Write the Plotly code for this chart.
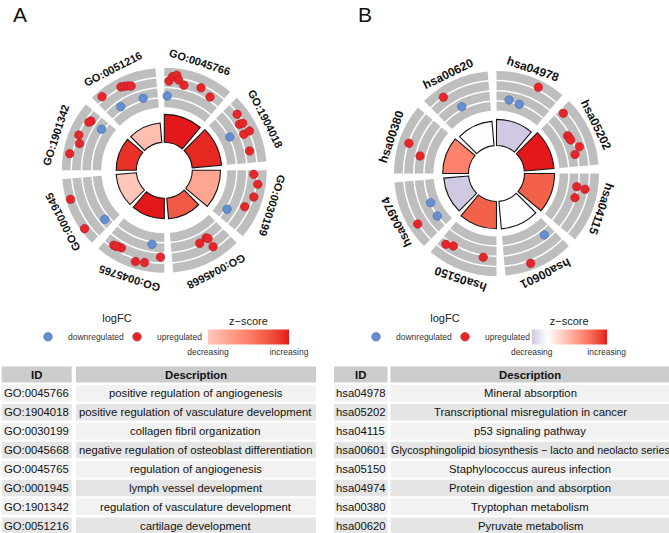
import math
import plotly.graph_objects as go

W, H = 669, 533

# ---------------- data : panel A (GO terms) ----------------
A_ids = ["GO:0045766", "GO:1904018", "GO:0030199", "GO:0045668",
         "GO:0045765", "GO:0001945", "GO:1901342", "GO:0051216"]
A_desc = ["positive regulation of angiogenesis",
          "positive regulation of vasculature development",
          "collagen fibril organization",
          "negative regulation of osteoblast differentiation",
          "regulation of angiogenesis",
          "lymph vessel development",
          "regulation of vasculature development",
          "cartilage development"]
A_neglogp = [9.3, 9.8, 9.4, 6.9, 6.8, 6.8, 6.7, 6.5]
A_zscore = [2.12, 2.05, 0.95, 1.7, 2.12, 0.6, 2.0, 0.7]
# genes of each term: relative position inside the term (0..1) and logFC
A_gene_pos = [
    [0.075, 0.125, 0.188, 0.225, 0.325, 0.60, 0.80, 0.055],
    [0.185, 0.338, 0.35, 0.515, 0.505, 0.805, 0.45],
    [0.065, 0.213, 0.415, 0.608, 0.795],
    [0.478, 0.333, 0.308, 0.31],
    [0.85, 0.785, 0.725, 0.813, 0.438, 0.303, 0.063, 0.235],
    [0.695, 0.22, 0.138],
    [0.25, 0.56, 0.438, 0.848, 0.813, 0.828],
    [0.12, 0.438, 0.488, 0.538, 0.588, 0.265, 0.715],
]
A_gene_lfc = [
    [2.51, 3.55, 3.99, 2.98, 2.00, 2.71, 1.80, -0.91],
    [3.08, 2.21, 2.98, 2.03, 3.51, 2.05, -1.12],
    [2.55, 3.67, 3.42, 2.26, -1.03],
    [0.64, 0.25, 0.62, 2.78],
    [2.73, 2.51, 2.35, 2.64, 3.94, 3.64, 1.91, -0.77],
    [4.51, 4.65, -0.30],
    [4.01, 3.21, 2.41, 2.26, 2.53, -0.77],
    [4.10, 3.55, 3.33, 3.10, 2.76, -0.32, -0.77],
]

# ---------------- data : panel B (KEGG pathways) ----------------
B_ids = ["hsa04978", "hsa05202", "hsa04115", "hsa00601",
         "hsa05150", "hsa04974", "hsa00380", "hsa00620"]
B_desc = ["Mineral absorption",
          "Transcriptional misregulation in cancer",
          "p53 signaling pathway",
          "Glycosphingolipid biosynthesis \u2212 lacto and neolacto series",
          "Staphylococcus aureus infection",
          "Protein digestion and absorption",
          "Tryptophan metabolism",
          "Pyruvate metabolism"]
B_neglogp = [8.7, 9.9, 10.0, 9.2, 9.1, 8.3, 8.6, 8.1]
B_zscore = [-0.577, 2.236, 1.732, 0.0, 1.732, -0.577, 1.414, 0.0]
B_gene_pos = [
    [0.648, 0.243, 0.455],
    [0.075, 0.425, 0.47, 0.518, 0.678, 0.783],
    [0.233, 0.253, 0.428],
    [0.178, 0.605],
    [0.888, 0.77, 0.225],
    [0.528, 0.233, 0.308],
    [0.475, 0.323],
    [0.253, 0.438],
]
B_gene_lfc = [
    [3.96, -0.87, -1.25],
    [2.62, 0.50, 0.59, 0.68, 1.96, 0.55],
    [0.66, 2.62, 0.84],
    [-0.11, 4.03],
    [1.96, 1.37, 1.46],
    [-1.46, -1.25, 3.46],
    [3.23, 0.02],
    [3.30, -0.71],
]

TABLE_HEADER = ["ID", "Description"]
LEGEND_LABELS = ["downregulated", "upregulated"]
ZSCORE_TICKS = ["decreasing", "increasing"]

# ---------------- styling / geometry ----------------
FONT = "Liberation Sans"
RED_PT, RED_PT_LINE = "#E6262B", "#B01E22"
BLUE_PT, BLUE_PT_LINE = "#6390D2", "#46679E"
Z_LOW, Z_MID, Z_HIGH = "#483D8B", "#FFFFFF", "#E4171B"
TRACK_COL = "#BEBEBE"

RMAX = 125.0          # radial axis range (1 unit == 1 px)
R_IN = 28.0           # inner radius of the z-score ring
BAR_PX = 3.0          # px per -log10(adj p)
TRACK_IN, TRACK_OUT, N_TRACK, TRACK_GAP = 63.0, 102.5, 4, 1.5
LFC_ZERO_R, LFC_PX = 78.4, 4.39
SECTOR, SPAN = 45.0, 40.0
TABLE_FS = 11.3

# approximate Arial / Liberation Sans advance widths (em)
_CW = {c: 0.556 for c in "abdeghnopqu0123456789"}
_CW.update({c: 0.5 for c in "cksvxyz"})
_CW.update({"f": 0.278, "t": 0.278, "i": 0.222, "j": 0.222, "l": 0.222, "r": 0.333,
            "m": 0.833, "w": 0.722, " ": 0.278, ":": 0.278, "\u2212": 0.584, "-": 0.333})


def text_width(txt, fs):
    return sum(_CW.get(ch, 0.667) for ch in txt) * fs


# ---------------- colour helpers (CIELAB interpolation like ggplot) ----------------
def hex2rgb(h):
    h = h.lstrip("#")
    return tuple(int(h[i:i + 2], 16) for i in (0, 2, 4))


def _lin(c):
    c = c / 255.0
    return c / 12.92 if c <= 0.04045 else ((c + 0.055) / 1.055) ** 2.4


def _gam(c):
    c = max(0.0, c)
    v = 12.92 * c if c <= 0.0031308 else 1.055 * (c ** (1 / 2.4)) - 0.055
    return int(round(min(1.0, max(0.0, v)) * 255))


XN, YN, ZN = 0.95047, 1.0, 1.08883


def _f(t):
    return t ** (1 / 3) if t > (6 / 29) ** 3 else t / (3 * (6 / 29) ** 2) + 4 / 29


def _finv(t):
    return t ** 3 if t > 6 / 29 else 3 * (6 / 29) ** 2 * (t - 4 / 29)


def rgb2lab(rgb):
    r, g, b = [_lin(c) for c in rgb]
    X = 0.4124564 * r + 0.3575761 * g + 0.1804375 * b
    Y = 0.2126729 * r + 0.7151522 * g + 0.0721750 * b
    Z = 0.0193339 * r + 0.1191920 * g + 0.9503041 * b
    fx, fy, fz = _f(X / XN), _f(Y / YN), _f(Z / ZN)
    return (116 * fy - 16, 500 * (fx - fy), 200 * (fy - fz))


def lab2hex(lab):
    L, a, b = lab
    fy = (L + 16) / 116
    fx = fy + a / 500
    fz = fy - b / 200
    X, Y, Z = XN * _finv(fx), YN * _finv(fy), ZN * _finv(fz)
    r = 3.2404542 * X - 1.5371385 * Y - 0.4985314 * Z
    g = -0.9692660 * X + 1.8760108 * Y + 0.0415560 * Z
    bb = 0.0556434 * X - 0.2040259 * Y + 1.0572252 * Z
    return "#%02x%02x%02x" % (_gam(r), _gam(g), _gam(bb))


def gradient2(z, m):
    t = max(-1.0, min(1.0, z / m)) if m else 0.0
    a = rgb2lab(hex2rgb(Z_MID))
    b = rgb2lab(hex2rgb(Z_HIGH if t >= 0 else Z_LOW))
    t = abs(t)
    return lab2hex(tuple(a[i] + (b[i] - a[i]) * t for i in range(3)))


def zscale(zs):
    lo, hi = min(zs), max(zs)
    m = max(abs(lo), abs(hi))
    n = 24
    return [[k / n, gradient2(lo + (hi - lo) * k / n, m)] for k in range(n + 1)], lo, hi


# ---------------- panels ----------------
panels = [
    dict(subplot="polar", legend="legend", ids=A_ids, desc=A_desc, nlp=A_neglogp, z=A_zscore,
         gpos=A_gene_pos, glfc=A_gene_lfc, cx=164.3, cy=170.3, lab_r=114.0, lab_off=18.0,
         lab_size=11, letter="A", letter_x=11.0,
         leg_x=28.0, cb_x=248.5, cb_len=81,
         cols=[(1.7, 71.7), (76.0, 316.0)]),
    dict(subplot="polar2", legend="legend2", ids=B_ids, desc=B_desc, nlp=B_neglogp, z=B_zscore,
         gpos=B_gene_pos, glfc=B_gene_lfc, cx=496.5, cy=173.5, lab_r=111.0, lab_off=19.0,
         lab_size=12, letter="B", letter_x=356.0,
         leg_x=356.0, cb_x=569.2, cb_len=75,
         cols=[(334.0, 387.5), (390.5, 669.5)]),
]

fig = go.Figure()
annotations = []
shapes = []
layout_extra = {}

band = (TRACK_OUT - TRACK_IN - (N_TRACK - 1) * TRACK_GAP) / N_TRACK

for p in panels:
    n = len(p["ids"])
    centers = [SECTOR * i + SPAN / 2 for i in range(n)]

    # grey tracks of the outer scatter ring
    th, rr, bb = [], [], []
    for i in range(n):
        for k in range(N_TRACK):
            th.append(centers[i])
            rr.append(band)
            bb.append(TRACK_IN + k * (band + TRACK_GAP))
    fig.add_trace(go.Barpolar(
        theta=th, r=rr, base=bb, width=[SPAN] * len(th), subplot=p["subplot"],
        marker=dict(color=TRACK_COL, line=dict(width=0)),
        showlegend=False, hoverinfo="skip"))

    # inner ring: height = -log10(adj p), colour = z-score
    cs, zlo, zhi = zscale(p["z"])
    fig.add_trace(go.Barpolar(
        theta=centers, r=[v * BAR_PX for v in p["nlp"]], base=[R_IN] * n,
        width=[SPAN] * n, subplot=p["subplot"],
        marker=dict(color=p["z"], colorscale=cs, cmin=zlo, cmax=zhi,
                    line=dict(color="#141414", width=1.1),
                    showscale=True,
                    colorbar=dict(orientation="h", x=p["cb_x"] / W, xanchor="center",
                                  y=1 - 335.5 / H, yanchor="middle",
                                  len=p["cb_len"], lenmode="pixels", thickness=15,
                                  outlinewidth=0, xpad=0, ypad=0,
                                  tickvals=[zlo, zhi], ticktext=ZSCORE_TICKS, ticks="",
                                  tickfont=dict(family=FONT, size=8.5, color="#333333"),
                                  title=dict(text="z\u2212score", side="top",
                                             font=dict(family=FONT, size=11, color="#222222")))),
        showlegend=False, hoverinfo="skip"))

    # outer ring: genes as points, radius = logFC
    for lab_i, (sign, fill, line) in enumerate([(-1, BLUE_PT, BLUE_PT_LINE), (1, RED_PT, RED_PT_LINE)]):
        tt, rv = [], []
        for i in range(n):
            for pos, lfc in zip(p["gpos"][i], p["glfc"][i]):
                if (lfc < 0) == (sign < 0):
                    tt.append(SECTOR * i + pos * SPAN)
                    rv.append(LFC_ZERO_R + LFC_PX * lfc)
        fig.add_trace(go.Scatterpolar(
            theta=tt, r=rv, mode="markers", subplot=p["subplot"], legend=p["legend"],
            name=LEGEND_LABELS[lab_i],
            marker=dict(size=8.5, color=fill, line=dict(color=line, width=0.6)),
            hoverinfo="skip"))

    # polar layout
    cx, cy = p["cx"], p["cy"]
    layout_extra[p["subplot"]] = dict(
        domain=dict(x=[(cx - RMAX) / W, (cx + RMAX) / W],
                    y=[(H - cy - RMAX) / H, (H - cy + RMAX) / H]),
        bgcolor="rgba(0,0,0,0)",
        radialaxis=dict(visible=False, range=[0, RMAX]),
        angularaxis=dict(visible=False, direction="clockwise", rotation=90))

    # term labels around the circle
    for i, tid in enumerate(p["ids"]):
        ang = SECTOR * i + p["lab_off"]
        x = cx + p["lab_r"] * math.sin(math.radians(ang))
        y = cy - p["lab_r"] * math.cos(math.radians(ang))
        rot = ang if ang <= 180 else ang - 360
        annotations.append(dict(
            x=x / W, y=1 - y / H, xref="paper", yref="paper", text=tid, showarrow=False,
            textangle=rot, xanchor="center", yanchor="middle",
            font=dict(family=FONT, size=p["lab_size"], color="#111111", weight="bold")))

    # panel letter
    annotations.append(dict(x=p["letter_x"] / W, y=1 - 1.0 / H, xref="paper", yref="paper",
                            text=p["letter"], showarrow=False, xanchor="left", yanchor="top",
                            font=dict(family=FONT, size=21, color="#111111")))

    # logFC legend
    layout_extra[p["legend"]] = dict(
        orientation="h", x=p["leg_x"] / W, xanchor="left", y=1 - 308 / H, yanchor="top",
        bgcolor="rgba(0,0,0,0)", itemwidth=30, entrywidth=44, entrywidthmode="pixels",
        font=dict(family=FONT, size=8.5, color="#333333"),
        title=dict(text="logFC", side="top center",
                   font=dict(family=FONT, size=11, color="#222222")))

    # table
    header_c, header_h = 374.6, 16.0
    row0, pitch, row_h = 393.3, 18.92, 16.5
    rows = [(header_c, header_h, "#CCCCCC", TABLE_HEADER, True)]
    for k in range(n):
        rows.append((row0 + pitch * k, row_h, "#F2F2F2" if k % 2 == 0 else "#E5E5E5",
                     [p["ids"][k], p["desc"][k]], False))
    for yc, hh, fillc, texts, bold in rows:
        for (x0, x1), txt in zip(p["cols"], texts):
            shapes.append(dict(type="rect", xref="paper", yref="paper",
                               x0=x0 / W, x1=x1 / W, y0=1 - (yc + hh / 2) / H, y1=1 - (yc - hh / 2) / H,
                               fillcolor=fillc, line=dict(width=0), layer="below"))
            # shrink a text only if it would not fit in its cell
            fs = TABLE_FS
            room = (x1 - x0) - 2
            if text_width(txt, fs) > room:
                fs = round(fs * room / text_width(txt, fs), 1)
            annotations.append(dict(
                x=(x0 + x1) / 2 / W, y=1 - yc / H, xref="paper", yref="paper", text=txt,
                showarrow=False, xanchor="center", yanchor="middle",
                font=dict(family=FONT, size=fs, color="#111111",
                          weight="bold" if bold else "normal")))

fig.update_layout(
    width=W, height=H, margin=dict(l=0, r=0, t=0, b=0),
    paper_bgcolor="white", plot_bgcolor="white",
    font=dict(family=FONT),
    annotations=annotations, shapes=shapes,
    **layout_extra)

fig.write_html("out.html", config={"displayModeBar": False},
               post_script="document.body.style.margin='0';")
